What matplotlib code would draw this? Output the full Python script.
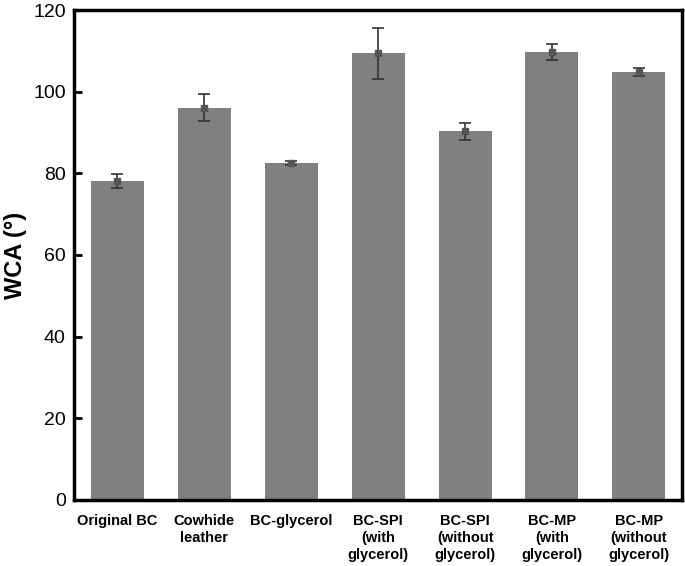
import numpy as np
import matplotlib.pyplot as plt

plt.rcParams['font.family'] = ['Liberation Sans', 'DejaVu Sans']

labels = ['Original BC', 'Cowhide\nleather', 'BC-glycerol', 'BC-SPI\n(with\nglycerol)',
          'BC-SPI\n(without\nglycerol)', 'BC-MP\n(with\nglycerol)', 'BC-MP\n(without\nglycerol)']
wca = [78.1, 96.1, 82.6, 109.4, 90.3, 109.7, 104.9]
err = [1.8, 3.3, 0.5, 6.3, 2.0, 2.0, 1.0]

fig = plt.figure(figsize=(6.85, 5.66), dpi=100)
ax = fig.add_axes([0.108, 0.117, 0.888, 0.865])

x = np.arange(len(labels))
ax.bar(x, wca, width=0.61, color='#808080')
ax.errorbar(x, wca, yerr=err, fmt='s', color='#555555', ecolor='#333333',
            markersize=4, capsize=4, elinewidth=1.2, capthick=1.2)

ax.set_xlim(-0.5, 6.5)
ax.set_ylim(0, 120)
ax.set_yticks(range(0, 121, 20))
ax.set_xticks(x)
ax.set_xticklabels(labels, fontsize=10.5, fontweight='bold', linespacing=1.3)
ax.tick_params(axis='x', length=0, pad=10)
ax.tick_params(axis='y', direction='in', length=6, width=2, labelsize=14, pad=6)
ax.set_ylabel('WCA (°)', fontsize=17, fontweight='bold', labelpad=4)
for s in ax.spines.values():
    s.set_linewidth(2.5)

fig.savefig('out.png', dpi=100)
